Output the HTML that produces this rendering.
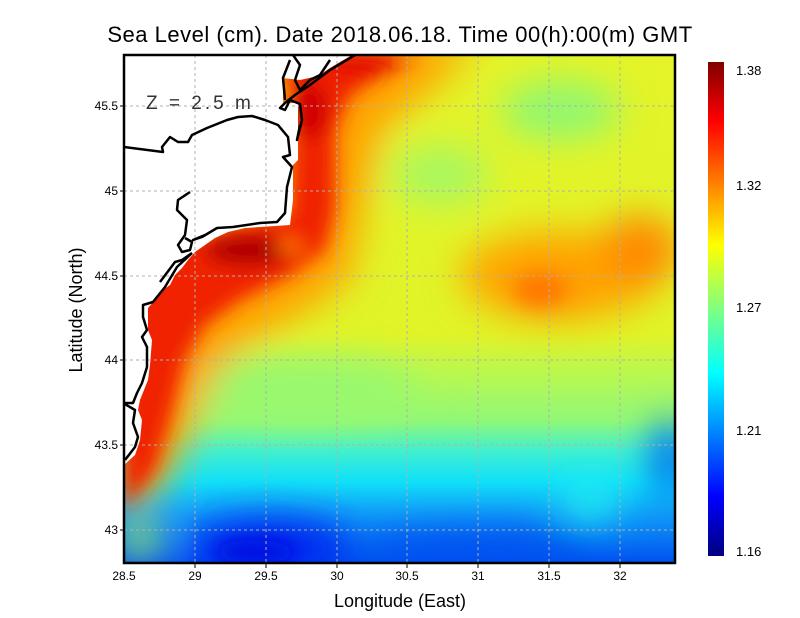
<!DOCTYPE html>
<html><head><meta charset="utf-8"><style>
body{margin:0;background:#fff;width:800px;height:618px;overflow:hidden}
svg{display:block}
text{font-family:"Liberation Sans",sans-serif}
</style></head><body>
<svg width="800" height="618" viewBox="0 0 800 618">
<defs>
<linearGradient id="bg" x1="0" y1="55" x2="0" y2="563" gradientUnits="userSpaceOnUse">
<stop offset="0" stop-color="#e4f428"/>
<stop offset="0.55" stop-color="#e0f428"/>
<stop offset="0.63" stop-color="#b8f850"/>
<stop offset="0.72" stop-color="#90f878"/>
<stop offset="0.78" stop-color="#40f0d0"/>
<stop offset="0.84" stop-color="#10e0f8"/>
<stop offset="0.9" stop-color="#10a0f8"/>
<stop offset="1" stop-color="#0050f0"/>
</linearGradient>
<linearGradient id="cb" x1="0" y1="0" x2="0" y2="1">
<stop offset="0" stop-color="#800000"/>
<stop offset="0.12" stop-color="#ff0000"/>
<stop offset="0.37" stop-color="#ffff00"/>
<stop offset="0.5" stop-color="#80ff80"/>
<stop offset="0.63" stop-color="#00ffff"/>
<stop offset="0.88" stop-color="#0000ff"/>
<stop offset="1" stop-color="#000080"/>
</linearGradient>
<filter id="bl" x="-50%" y="-50%" width="200%" height="200%"><feGaussianBlur stdDeviation="18"/></filter>
<filter id="bl2" x="-50%" y="-50%" width="200%" height="200%"><feGaussianBlur stdDeviation="9"/></filter>
<clipPath id="pc"><rect x="124" y="55" width="551" height="508"/></clipPath>
</defs>
<g clip-path="url(#pc)">
<rect x="124" y="55" width="551" height="508" fill="url(#bg)"/>
<g filter="url(#bl)">
<ellipse cx="560" cy="110" rx="60" ry="30" fill="#90f870"/>
<ellipse cx="440" cy="175" rx="50" ry="30" fill="#a8f860"/>
<ellipse cx="300" cy="390" rx="120" ry="30" fill="#98f870"/>
<polygon points="250,40 480,40 430,90 380,130 365,200 350,280 290,320 240,345 210,380 190,430 160,490 124,510 100,300 200,230" fill="#ffa000"/>
<ellipse cx="560" cy="275" rx="100" ry="45" fill="#ffa800"/>
<ellipse cx="640" cy="250" rx="40" ry="35" fill="#ff8800"/>
<ellipse cx="545" cy="290" rx="40" ry="25" fill="#ff9000"/>
<ellipse cx="270" cy="548" rx="80" ry="30" fill="#0028f0"/>
<ellipse cx="480" cy="552" rx="120" ry="20" fill="#0050f0"/>
<ellipse cx="670" cy="460" rx="20" ry="40" fill="#0070f0"/>
<ellipse cx="590" cy="500" rx="30" ry="20" fill="#20f0f0"/>
<ellipse cx="140" cy="540" rx="20" ry="20" fill="#a0f060"/>
</g>
<g filter="url(#bl2)">
<polygon points="280,55 420,55 390,70 350,95 335,130 335,210 325,250 290,275 240,300 205,325 185,360 170,420 155,470 124,510 124,300 180,240 240,225 290,215 295,100" fill="#f02000"/>
<ellipse cx="250" cy="250" rx="45" ry="16" fill="#b00000"/>
<ellipse cx="310" cy="110" rx="18" ry="30" fill="#d00000"/>
<ellipse cx="360" cy="62" rx="40" ry="10" fill="#e00000"/>
<ellipse cx="290" cy="246" rx="14" ry="8" fill="#ff7000"/>
<ellipse cx="540" cy="290" rx="25" ry="15" fill="#ff7800"/>
<ellipse cx="255" cy="552" rx="40" ry="12" fill="#0010e0"/>
</g>
<polygon fill="#fff" points="124,55 352,55 340,62 330,68 318,76 300,80 283,78 283,103 298,103 298,160 293,165 293,200 290,225 245,228 228,232 215,238 205,245 195,252 188,260 182,268 175,275 170,285 160,292 155,300 148,308 148,330 152,340 150,365 148,380 140,400 138,410 142,420 140,440 135,455 124,465"/>
<g stroke="#b0b0b0" stroke-width="1" stroke-dasharray="3,3" fill="none">
<path d="M195,55V563M266,55V563M337,55V563M407,55V563M478,55V563M549,55V563M620,55V563"/>
<path d="M124,106H675M124,191H675M124,276H675M124,360H675M124,445H675M124,530H675"/>
</g>
<g stroke="#000" stroke-width="2.5" fill="none" stroke-linejoin="round">
<path d="M355,55 L330,70 L310,85 L295,95 L285,103 L280,108 L285,110 L290,100 L300,104 L302,120 L297,140 L300,125"/>
<path d="M293,55 L300,65 L295,80 L300,90 L310,80 L320,75 L330,60"/>
<path d="M285,100 L283,78 L290,60"/>
<path d="M124,147 L163,152 L162,147 L170,137 L178,142 L188,142 L192,135 L207,128 L227,120 L238,117 L252,116 L265,120 L278,125 L288,137 L290,155 L283,157 L292,167 L287,187 L285,213 L277,222 L260,223 L233,227 L217,228 L202,237 L193,240 L205,235"/>
<path d="M190,192 L178,200 L177,210 L187,220 L185,235 L178,245 L182,252 L190,250 L192,242 L185,238"/>
<path d="M192,253 L177,267 L165,287 L153,302 L143,305 L143,317 L147,330 L142,337 L147,347 L147,367 L142,383 L137,393 L133,403 L123,403 L135,410 L133,423 L138,437 L135,447 L125,460"/>
<path d="M160,282 L175,262 L182,260 L192,253"/>
</g>
</g>
<rect x="124" y="55" width="551" height="508" fill="none" stroke="#000" stroke-width="2.5"/>
<text x="146" y="109" font-size="19" fill="#333" letter-spacing="3">Z = 2.5 m</text>
<text x="400" y="42" font-size="22" text-anchor="middle" letter-spacing="0.5">Sea Level (cm). Date 2018.06.18. Time 00(h):00(m) GMT</text>
<g font-size="12" text-anchor="middle">
<text x="124" y="580">28.5</text><text x="195" y="580">29</text><text x="266" y="580">29.5</text><text x="337" y="580">30</text><text x="407" y="580">30.5</text><text x="478" y="580">31</text><text x="549" y="580">31.5</text><text x="620" y="580">32</text>
</g>
<g stroke="#000" stroke-width="1"><path d="M195,563v5M266,563v5M337,563v5M407,563v5M478,563v5M549,563v5M620,563v5M124,106h-4M124,191h-4M124,276h-4M124,360h-4M124,445h-4M124,530h-4"/></g>
<g font-size="12" text-anchor="end">
<text x="118" y="110">45.5</text><text x="118" y="195">45</text><text x="118" y="280">44.5</text><text x="118" y="364">44</text><text x="118" y="449">43.5</text><text x="118" y="534">43</text>
</g>
<text x="400" y="607" font-size="18" text-anchor="middle">Longitude (East)</text>
<text x="82" y="310" font-size="18" text-anchor="middle" transform="rotate(-90 82 310)">Latitude (North)</text>
<rect x="708" y="62" width="16" height="494" fill="url(#cb)"/>
<g font-size="13">
<text x="736" y="75">1.38</text><text x="736" y="190">1.32</text><text x="736" y="312">1.27</text><text x="736" y="435">1.21</text><text x="736" y="556">1.16</text>
</g>
</svg>
</body></html>
